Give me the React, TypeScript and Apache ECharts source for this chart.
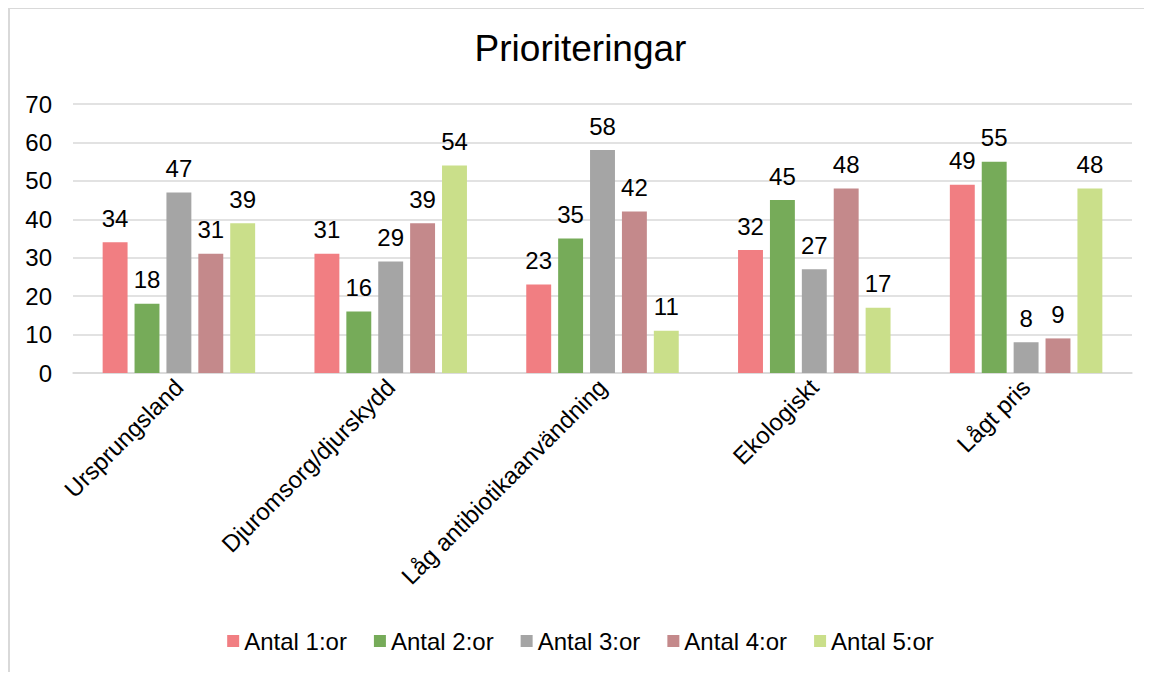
import React, { useEffect, useRef } from "react";
import * as echarts from "echarts";

const categories = ["Ursprungsland", "Djuromsorg/djurskydd", "Låg antibiotikaanvändning", "Ekologiskt", "Lågt pris"];
const seriesNames = ["Antal 1:or", "Antal 2:or", "Antal 3:or", "Antal 4:or", "Antal 5:or"];
const antal1 = [34, 31, 23, 32, 49];
const antal2 = [18, 16, 35, 45, 55];
const antal3 = [47, 29, 58, 27, 8];
const antal4 = [31, 39, 42, 48, 9];
const antal5 = [39, 54, 11, 17, 48];
const colors = ["#F17E82", "#76AB59", "#A5A5A5", "#C4898B", "#CADF8A"];

export default function App() {
  const ref = useRef<HTMLDivElement>(null);
  useEffect(() => {
    const chart = echarts.init(ref.current!, null, { renderer: "svg" });
    const values = [antal1, antal2, antal3, antal4, antal5];
    const font = "'Liberation Sans', Arial, sans-serif";
    chart.setOption({
      animation: false,
      color: colors,
      textStyle: { fontFamily: font },
      title: {
        text: "Prioriteringar",
        left: "center",
        top: 21,
        padding: 0,
        textStyle: { fontSize: 37, fontWeight: "normal", color: "#000", fontFamily: font, lineHeight: 37 },
      },
      legend: {
        top: 620,
        left: "center",
        padding: 0,
        itemWidth: 12,
        itemHeight: 12,
        itemGap: 27,
        icon: "rect",
        textStyle: { fontSize: 24, color: "#000", fontFamily: font, padding: [0, 0, 0, 0] },
        data: seriesNames,
      },
      grid: { left: 63, right: 19, top: 95, bottom: 299, containLabel: false },
      xAxis: {
        type: "category",
        data: categories,
        axisTick: { show: false },
        axisLine: { lineStyle: { color: "#d9d9d9", width: 1.5 } },
        axisLabel: { rotate: 45, fontSize: 24, color: "#000", margin: 10, interval: 0, fontFamily: font },
      },
      yAxis: {
        type: "value",
        min: 0,
        max: 70,
        interval: 10,
        axisLine: { show: false },
        axisTick: { show: false },
        splitLine: { lineStyle: { color: "#d9d9d9", width: 1.5 } },
        axisLabel: { fontSize: 24, color: "#000", margin: 21, fontFamily: font },
      },
      series: seriesNames.map((n, i) => ({
        name: n,
        type: "bar",
        data: values[i],
        barGap: "28%",
        barCategoryGap: "28%",
        label: { show: true, position: "top", distance: 12, fontSize: 24, color: "#000", fontFamily: font },
      })),
    });
    return () => chart.dispose();
  }, []);
  return (
    <div
      style={{
        width: 1143,
        height: 665,
        borderLeft: "2px solid #d9d9d9",
        borderTop: "2px solid #d9d9d9",
        boxSizing: "border-box",
        marginTop: -1,
      }}
    >
      <div ref={ref} style={{ width: 1141, height: 663 }} />
    </div>
  );
}
